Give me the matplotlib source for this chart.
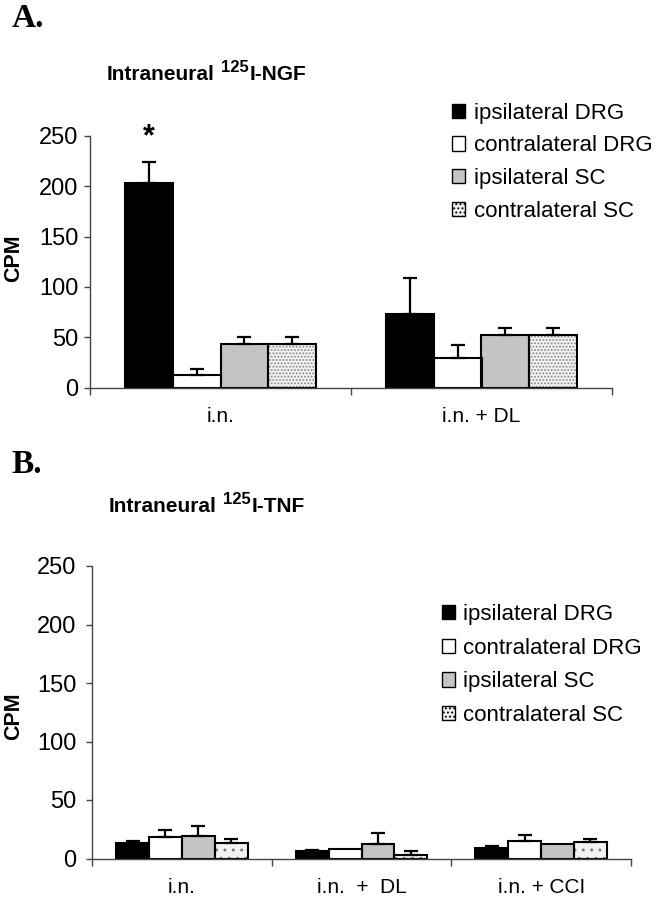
import matplotlib
matplotlib.use('Agg')
import matplotlib.pyplot as plt
from matplotlib.patches import Patch
import numpy as np

plt.rcParams['font.family'] = ['Liberation Sans', 'DejaVu Sans']
plt.rcParams['hatch.linewidth'] = 0.9

# ---------------- data ----------------
series = ['ipsilateral DRG', 'contralateral DRG', 'ipsilateral SC', 'contralateral SC']

ngf_groups = ['i.n.', 'i.n. + DL']
ngf_ipsi_drg = [203, 73]
ngf_contra_drg = [13, 29]
ngf_ipsi_sc = [43, 52]
ngf_contra_sc = [43, 52]
ngf_ipsi_drg_err = [21, 36]
ngf_contra_drg_err = [6, 13]
ngf_ipsi_sc_err = [7, 7]
ngf_contra_sc_err = [7, 7]

tnf_groups = ['i.n.', 'i.n.  +  DL', 'i.n. + CCI']
tnf_ipsi_drg = [13, 6, 9]
tnf_contra_drg = [18, 8, 15]
tnf_ipsi_sc = [19, 12, 12]
tnf_contra_sc = [13, 3, 14]
tnf_ipsi_drg_err = [2, 1, 1.5]
tnf_contra_drg_err = [6, 0, 5]
tnf_ipsi_sc_err = [9, 10, 0]
tnf_contra_sc_err = [3.5, 3, 2.5]

yticks = [0, 50, 100, 150, 200, 250]

# ---------------- styling ----------------
colors = ['#000000', '#ffffff', '#c4c4c4', '#f2f2f2']
AXC = '#444444'

W, H = 656, 900
fig = plt.figure(figsize=(W / 100, H / 100), dpi=100)


def fx(px):
    return px / W


def fy(py):
    return 1 - py / H


def draw_panel(ax, groups, means, errs, dot_hatch, dot_color, ytick_pad):
    x = np.arange(len(groups))
    w = 0.183
    hatches = ['', '', '', dot_hatch]
    for i, name in enumerate(series):
        xs = x + (i - 1.5) * w
        m = np.asarray(means[i], float)
        # fill (with hatch drawn in grey)
        ax.bar(xs, m, width=w, color=colors[i], edgecolor=dot_color,
               linewidth=0, hatch=hatches[i], zorder=2)
        # black outline
        ax.bar(xs, m, width=w, fill=False, edgecolor='black',
               linewidth=1.5, zorder=2.5)
        e = np.asarray(errs[i], float)
        mask = e > 0
        ax.errorbar(xs[mask], m[mask], yerr=[np.zeros(mask.sum()), e[mask]],
                    fmt='none', ecolor='black', elinewidth=1.6, capsize=4.7,
                    capthick=1.6, zorder=3)
    ax.set_xlim(-0.5, len(groups) - 0.5)
    ax.set_ylim(0, 250)
    ax.set_yticks(yticks)
    ax.set_yticklabels([str(v) for v in yticks])
    ax.set_xticks(np.arange(len(groups) + 1) - 0.5)
    ax.set_xticklabels([])
    ax.set_xticks(x, minor=True)
    ax.set_xticklabels(groups, minor=True)
    ax.tick_params(axis='x', which='minor', length=0, pad=14, labelsize=15)
    ax.tick_params(axis='x', which='major', length=5, width=1, color=AXC,
                   direction='out')
    ax.tick_params(axis='y', length=4, width=1, color=AXC, labelsize=17,
                   pad=ytick_pad)
    for s in ['top', 'right']:
        ax.spines[s].set_visible(False)
    for s in ['left', 'bottom']:
        ax.spines[s].set_color(AXC)
        ax.spines[s].set_linewidth(1)
    ax.set_facecolor('none')


axA = fig.add_axes([fx(90), fy(387.7), fx(612) - fx(90), fy(135.7) - fy(387.7)])
axB = fig.add_axes([fx(92), fy(858.5), fx(631) - fx(92), fy(566) - fy(858.5)])

draw_panel(axA, ngf_groups,
           [ngf_ipsi_drg, ngf_contra_drg, ngf_ipsi_sc, ngf_contra_sc],
           [ngf_ipsi_drg_err, ngf_contra_drg_err, ngf_ipsi_sc_err, ngf_contra_sc_err],
           '.....', '#8a8a8a', 4.5)
draw_panel(axB, tnf_groups,
           [tnf_ipsi_drg, tnf_contra_drg, tnf_ipsi_sc, tnf_contra_sc],
           [tnf_ipsi_drg_err, tnf_contra_drg_err, tnf_ipsi_sc_err, tnf_contra_sc_err],
           '..', '#777777', 7)

# significance star
axA.annotate('*', xy=(0 - 1.5 * 0.183, ngf_ipsi_drg[0] + ngf_ipsi_drg_err[0]),
             xytext=(0, 12), textcoords='offset points', ha='center',
             va='baseline', fontsize=22, fontweight='bold', annotation_clip=False)

# y labels
for ax, cy in [(axA, 258), (axB, 716)]:
    ax.set_ylabel('CPM', fontsize=15.5, fontweight='bold')
    ax.yaxis.set_label_coords(fx(13.5), fy(cy), transform=fig.transFigure)
    ax.yaxis.label.set_va('center')

# legends
handles = [Patch(facecolor=colors[i], edgecolor='black', linewidth=1,
                 hatch=['', '', '', '....'][i]) for i in range(4)]
for x0, ytop, lsp, tpad in [(452, 102.5, 0.53, 0.38), (442, 604, 0.57, 0.33)]:
    fig.legend(handles, series, loc='upper left',
               bbox_to_anchor=(fx(x0), fy(ytop)), frameon=False,
               borderpad=0, borderaxespad=0, handlelength=0.6,
               handleheight=0.6, handletextpad=tpad, labelspacing=lsp,
               fontsize=16)

# panel letters
fig.text(fx(12), fy(27), 'A.', family=['Liberation Serif', 'DejaVu Serif'],
         fontweight='bold', fontsize=24, va='baseline')
fig.text(fx(11), fy(473), 'B.', family=['Liberation Serif', 'DejaVu Serif'],
         fontweight='bold', fontsize=24, va='baseline')

# titles with superscript
renderer = fig.canvas.get_renderer()


def sup_title(x_px, base_px, main1, sup, main2):
    t1 = fig.text(fx(x_px), fy(base_px), main1, fontsize=15,
                  fontweight='bold', va='baseline')
    bb = t1.get_window_extent(renderer)
    t2 = fig.text((bb.x1 + 6) / W, fy(base_px - 8), sup, fontsize=12,
                  fontweight='bold', va='baseline')
    bb2 = t2.get_window_extent(renderer)
    fig.text((bb2.x1 + 1.5) / W, fy(base_px), main2, fontsize=15,
             fontweight='bold', va='baseline')


sup_title(107, 80, 'Intraneural', '125', 'I-NGF')
sup_title(109, 512, 'Intraneural', '125', 'I-TNF')

fig.savefig('out.png', dpi=100, facecolor='white')
